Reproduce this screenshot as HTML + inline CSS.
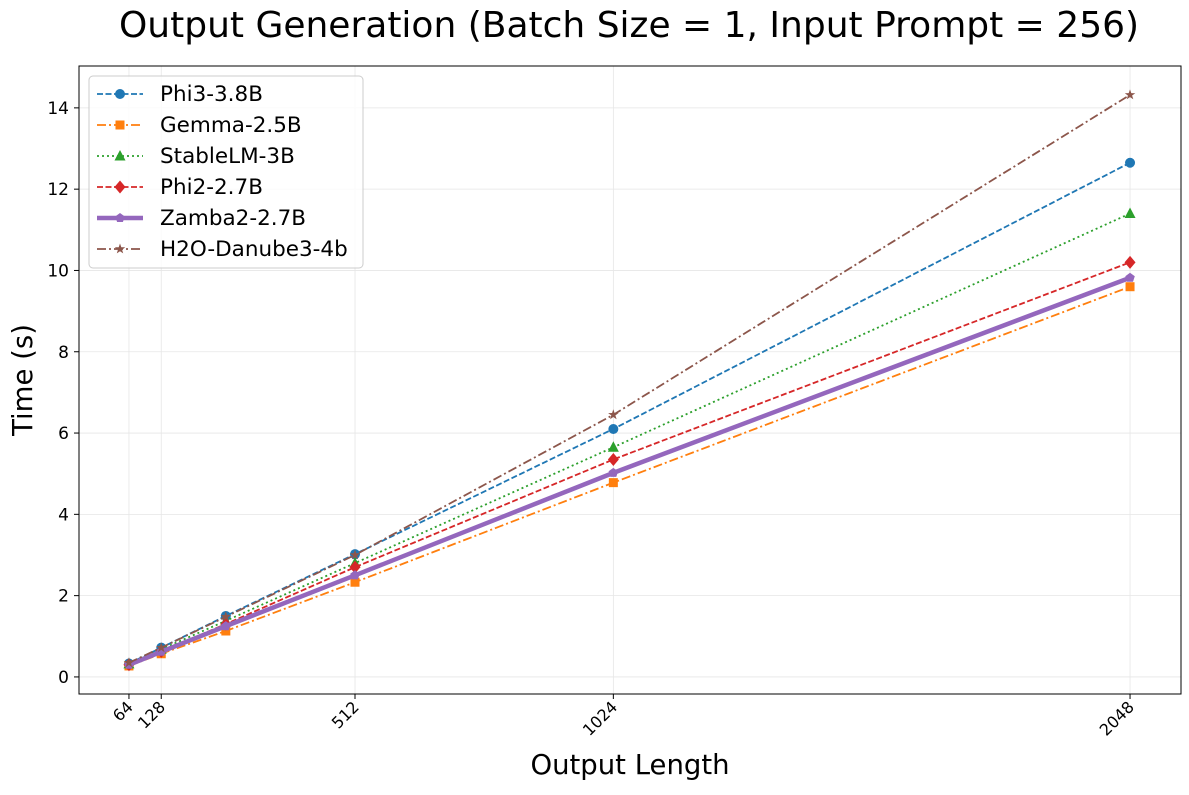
<!DOCTYPE html>
<html><head><meta charset="utf-8"><style>
body{margin:0;background:#fff;font-family:"Liberation Sans","DejaVu Sans",sans-serif;}
svg text{font-family:"DejaVu Sans","Liberation Sans",sans-serif;}
</style></head><body>
<svg id="chart" width="1189" height="790" xmlns="http://www.w3.org/2000/svg"></svg>
<script>
const categories=[64,128,256,512,1024,2048];
const tickLabels=["64","128","512","1024","2048"];
const tickValues=[64,128,512,1024,2048];
const yTicks=[0,2,4,6,8,10,12,14];
const seriesNames=["Phi3-3.8B","Gemma-2.5B","StableLM-3B","Phi2-2.7B","Zamba2-2.7B","H2O-Danube3-4b"];
const phi3=[0.33,0.72,1.5,3.02,6.1,12.65];
const gemma=[0.27,0.57,1.13,2.33,4.78,9.6];
const stablelm=[0.32,0.68,1.38,2.8,5.65,11.4];
const phi2=[0.3,0.63,1.3,2.7,5.35,10.2];
const zamba=[0.3,0.62,1.25,2.5,5.02,9.82];
const h2o=[0.35,0.72,1.48,3.0,6.45,14.32];
const seriesValues=[phi3,gemma,stablelm,phi2,zamba,h2o];

const styles=[
 {c:"#1f77b4",w:1.8,d:"6,2.5",m:"circle"},
 {c:"#ff7f0e",w:1.8,d:"9,3,2,3",m:"square"},
 {c:"#2ca02c",w:1.8,d:"2,3",m:"triangle"},
 {c:"#d62728",w:1.8,d:"6,2.5",m:"diamond"},
 {c:"#9467bd",w:4.5,d:"",m:"pentagon"},
 {c:"#8c564b",w:1.8,d:"9,3,2,3",m:"star"}];
const L=79,R=1181,T=66,B=694;
const xMin=-35,xMax=2149,yMin=-0.42,yMax=15.03;
const X=v=>L+(v-xMin)/(xMax-xMin)*(R-L);
const Y=v=>B-(v-yMin)/(yMax-yMin)*(B-T);
const svg=document.getElementById('chart');
const NS="http://www.w3.org/2000/svg";
function mk(tag,attrs,parent){const e=document.createElementNS(NS,tag);for(const k in attrs)e.setAttribute(k,attrs[k]);(parent||svg).appendChild(e);return e;}
function marker(type,x,y,c,g){
 let e;
 if(type==="circle")e=mk("circle",{cx:x,cy:y,r:5,fill:c},g);
 else if(type==="square")e=mk("rect",{x:x-4.5,y:y-4.5,width:9,height:9,fill:c},g);
 else if(type==="triangle")e=mk("polygon",{points:`${x},${y-6} ${x-5.5},${y+4.5} ${x+5.5},${y+4.5}`,fill:c},g);
 else if(type==="diamond")e=mk("polygon",{points:`${x},${y-6.5} ${x+5.5},${y} ${x},${y+6.5} ${x-5.5},${y}`,fill:c},g);
 else {let pts=[];const n=type==="star"?10:5;for(let i=0;i<n;i++){const a=-Math.PI/2+i*2*Math.PI/n;const r=type==="star"?(i%2?2.2:5.5):5;pts.push((x+r*Math.cos(a)).toFixed(1)+","+(y+r*Math.sin(a)).toFixed(1));}e=mk("polygon",{points:pts.join(" "),fill:c},g);}
 return e;
}
yTicks.forEach(v=>{const l=mk("line",{x1:L,x2:R,y1:Y(v),y2:Y(v),stroke:"#e6e6e6","stroke-width":0.8});

});
tickValues.forEach(v=>{const l=mk("line",{x1:X(v),x2:X(v),y1:T,y2:B,stroke:"#e6e6e6","stroke-width":0.8});

});
seriesValues.forEach((vals,si)=>{
 const s=styles[si];
 const g=mk("g",{});
 
 
 mk("polyline",{points:vals.map((v,i)=>X(categories[i])+","+Y(v)).join(" "),fill:"none",stroke:s.c,"stroke-width":s.w,"stroke-dasharray":s.d},g);
 vals.forEach((v,i)=>{const m=marker(s.m,X(categories[i]),Y(v),s.c,g);
 
 });
});
mk("rect",{x:L,y:T,width:R-L,height:B-T,fill:"none",stroke:"#000","stroke-width":1});
yTicks.forEach(v=>{mk("line",{x1:L-5,x2:L,y1:Y(v),y2:Y(v),stroke:"#000"});
 const t=mk("text",{x:L-10,y:Y(v)+6,"text-anchor":"end","font-size":17});t.textContent=v;
 
 });
tickValues.forEach((v,i)=>{mk("line",{x1:X(v),x2:X(v),y1:B,y2:B+5,stroke:"#000"});
 const t=mk("text",{x:X(v)+5,y:B+14,"text-anchor":"end","font-size":16,transform:`rotate(-45 ${X(v)+5} ${B+14})`});t.textContent=tickLabels[i];
 
 });
let t=mk("text",{x:629,y:37,"text-anchor":"middle","font-size":36});t.textContent="Output Generation (Batch Size = 1, Input Prompt = 256)";


t=mk("text",{x:630,y:774,"text-anchor":"middle","font-size":27.5});t.textContent="Output Length";


t=mk("text",{x:32,y:380,"text-anchor":"middle","font-size":27.5,transform:"rotate(-90 32 380)"});t.textContent="Time (s)";


const lg=mk("g",{});


mk("rect",{x:89,y:76,width:274,height:192,rx:4,fill:"#fff","fill-opacity":0.8,stroke:"#ccc"},lg);
seriesNames.forEach((n,i)=>{const s=styles[i];const y=94+i*31;
 const e=mk("g",{},lg);
 
 
 mk("line",{x1:97,x2:143,y1:y,y2:y,stroke:s.c,"stroke-width":s.w,"stroke-dasharray":s.d},e);
 marker(s.m,120,y,s.c,e);
 const tx=mk("text",{x:160,y:y+7,"font-size":21.5},e);tx.textContent=n;});
</script>
</body></html>
